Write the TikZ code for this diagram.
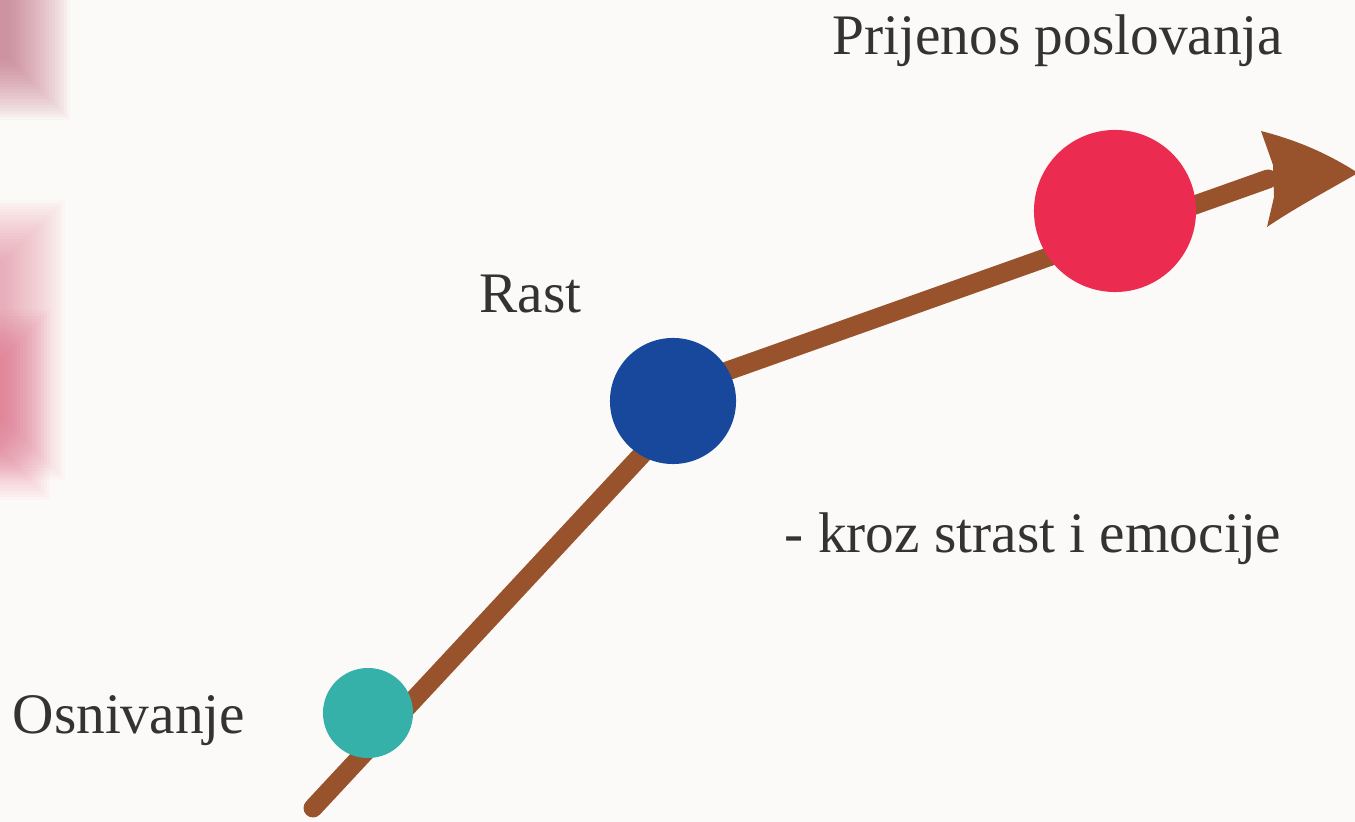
\documentclass[tikz,border=0pt]{standalone}
\usepackage{fontspec}
\setmainfont{Liberation Serif}
\usetikzlibrary{arrows.meta}
\definecolor{bgc}{HTML}{FCFAF8}
\definecolor{brownline}{HTML}{99532C}
\definecolor{tealc}{HTML}{35B1AA}
\definecolor{bluec}{HTML}{17489B}
\definecolor{redc}{HTML}{EC2B50}
\definecolor{txt}{HTML}{333333}
\definecolor{blobA}{HTML}{B8506C}
\definecolor{blobB}{HTML}{E87A92}
\definecolor{blobC}{HTML}{E25474}
\begin{document}
\begin{tikzpicture}[x=0.01cm,y=-0.01cm,
  lbl/.style={anchor=base west, inner sep=0pt, text=txt, font=\fontsize{16.3}{19}\selectfont},
  dot/.style={circle, inner sep=0pt, draw=none, minimum size=#1},
  conn/.style={draw=brownline, line width=5.4pt, line cap=round, line join=round},
  headfill/.style={fill=brownline, draw=none}]
\fill[bgc] (0,0) rectangle (1355,822);
\useasboundingbox (0,0) rectangle (1355,822);
% soft blurred blobs at the left edge
\foreach \r in {0,3,...,60}{
  \fill[blobA, opacity=0.04] (-30,-30) rectangle (10+\r,60+\r);
  \fill[blobB, opacity=0.035] (-30,260-\r) rectangle (5+\r,420+\r);
  \fill[blobC, opacity=0.03] (-30,370-\r) rectangle (-10+\r,440+\r);
}
% connector path
\coordinate (s) at (313,808);
\coordinate (k) at (716,375);
\coordinate (e) at (1268,179);
\draw[conn] (s) -- (k) -- (e);
\coordinate (tip) at (1358,173);
\fill[headfill] (1261,131) .. controls (1300,141) and (1330,155) .. (tip)
  .. controls (1325,192) and (1295,208) .. (1267,227)
  -- (1274,197) -- (1273,165) -- cycle;
% milestones
\node[dot=0.9cm, fill=tealc] (o) at (368,713) {};
\node[dot=1.26cm, fill=bluec] (r) at (673,401) {};
\node[dot=1.62cm, fill=redc] (p) at (1115,211) {};
% labels
\node[lbl] (to) at (12,733) {Osnivanje};
\node[lbl] (tr) at (479,313) {Rast};
\node[lbl] (tp) at (832,55) {Prijenos poslovanja};
\node[lbl] (tk) at (784,553) {- kroz strast i emocije};
\end{tikzpicture}
\end{document}
